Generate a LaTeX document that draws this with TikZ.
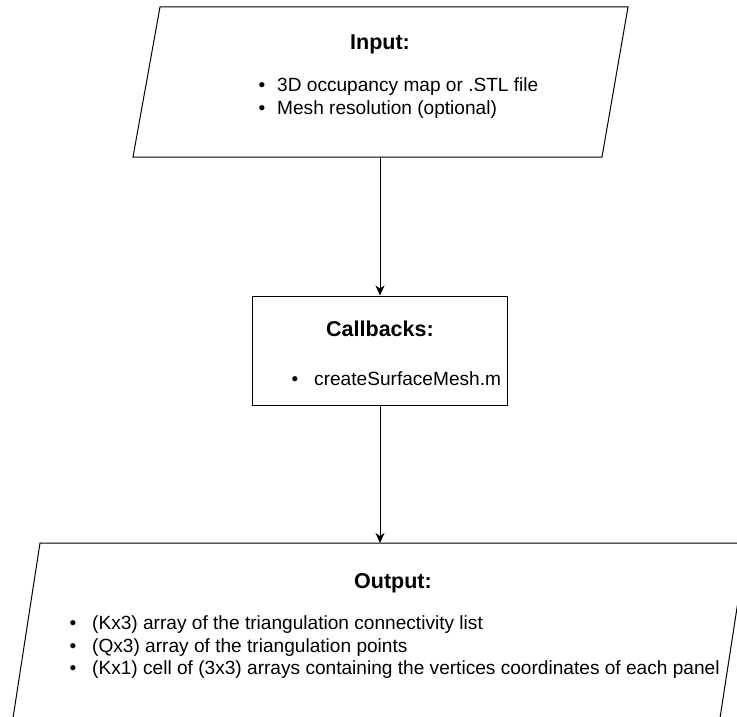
\documentclass[tikz,border=0pt]{standalone}
\usepackage{fontspec}
\setmainfont{Liberation Sans}
\usetikzlibrary{arrows.meta}
\begin{document}
\begin{tikzpicture}[x=1pt,y=-1pt,
  shapeline/.style={draw=black, line width=1pt, line join=miter},
  titletext/.style={font=\fontsize{21.5}{26}\selectfont\bfseries, anchor=base, inner sep=0pt},
  bodytext/.style={font=\fontsize{19.1}{23}\selectfont, anchor=base west, inner sep=0pt},
  bulletdot/.style={font=\fontsize{19.1}{23}\selectfont, anchor=base, inner sep=0pt},
  flow/.style={draw=black, line width=1pt, -{Stealth[length=10pt,width=9pt,inset=3pt]}}]
\useasboundingbox (0,0) rectangle (737,717);
\clip (0,0) rectangle (737,717);

% Input parallelogram
\draw[shapeline] (160,7) -- (628,7) -- (602,157) -- (133,157) -- cycle;
\coordinate (inB) at (380,157);
\node[titletext] (intitle) at (380,50) {Input:};
\node[bulletdot] (inb1) at (262,91.5) {•};
\node[bodytext]  (int1) at (277,91.5) {3D occupancy map or .STL file};
\node[bulletdot] (inb2) at (262,114.5) {•};
\node[bodytext]  (int2) at (277,114.5) {Mesh resolution (optional)};

% Callbacks box
\node[shapeline, minimum width=255pt, minimum height=109pt, inner sep=0pt] (cb) at (380,350.5) {};
\node[titletext] (cbtitle) at (380,336) {Callbacks:};
\node[bulletdot] (cbb1) at (295,385) {•};
\node[bodytext]  (cbt1) at (314,385) {createSurfaceMesh.m};

% Output parallelogram
\draw[shapeline] (40,543) -- (747,543) -- (720,718) -- (13,718) -- cycle;
\coordinate (outT) at (380,543);
\node[titletext] (outtitle) at (393,588) {Output:};
\node[bulletdot] (outb1) at (73,629.5) {•};
\node[bodytext]  (outt1) at (92,629.5) {(Kx3) array of the triangulation connectivity list};
\node[bulletdot] (outb2) at (73,652) {•};
\node[bodytext]  (outt2) at (92,652) {(Qx3) array of the triangulation points};
\node[bulletdot] (outb3) at (73,674.5) {•};
\node[bodytext]  (outt3) at (92,674.5) {(Kx1) cell of (3x3) arrays containing the vertices coordinates of each panel};

% Connectors
\draw[flow] (inB) -- (cb.north);
\draw[flow] (cb.south) -- (outT);
\end{tikzpicture}
\end{document}
